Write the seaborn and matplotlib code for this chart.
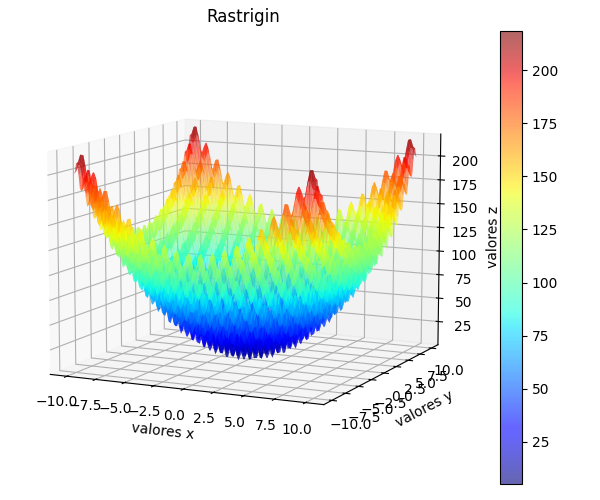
import numpy as np
import seaborn as sns
import matplotlib
matplotlib.use("Agg")
import matplotlib.pyplot as plt

# height of the surface along one axis (x >= 0), estimated; the other half mirrors it
profile_half = [0.1, 5.9, 16.7, 19.9, 12.0, 2.4, 2.8, 13.0, 21.7, 19.2,
                9.2, 4.0, 10.6, 22.1, 26.1, 18.9, 10.1, 11.1, 22.1, 31.5,
                29.8, 20.4, 16.0, 23.3, 35.6, 40.3, 33.8, 25.7, 27.5, 39.2,
                49.4, 48.3, 39.7, 36.0, 44.1, 57.1, 62.4, 56.7, 49.3, 51.9,
                64.3, 75.2, 74.9, 67.0, 64.0, 72.8, 86.5, 92.6, 87.6, 81.0,
                84.2, 97.4, 109.0, 109.4, 102.2, 100.0]
title = "Rastrigin"
x_label = "valores x"
y_label = "valores y"
z_label = "valores z"

profile = np.array(profile_half[:0:-1] + profile_half)
x = np.linspace(-10, 10, len(profile))
X, Y = np.meshgrid(x, x)
Z = np.add.outer(profile, profile)

jet = sns.mpl_palette("jet", 256, as_cmap=True)

fig = plt.figure(figsize=(6, 5), dpi=100)
ax = fig.add_axes([0.008, 0.029, 0.795, 0.91], projection="3d")
surf = ax.plot_surface(X, Y, Z, cmap=jet, alpha=0.6, rstride=1, cstride=1,
                       linewidth=0, antialiased=True)
ax.view_init(elev=10, azim=-64.5)
ax.set_zlim(0.2, 222.8)
ax.set_title(title)
ax.set_xlabel(x_label)
ax.set_ylabel(y_label)
ax.set_zlabel(z_label)

cax = fig.add_axes([0.833, 0.032, 0.037, 0.906])
fig.colorbar(surf, cax=cax)

fig.savefig("out.png", dpi=100)
